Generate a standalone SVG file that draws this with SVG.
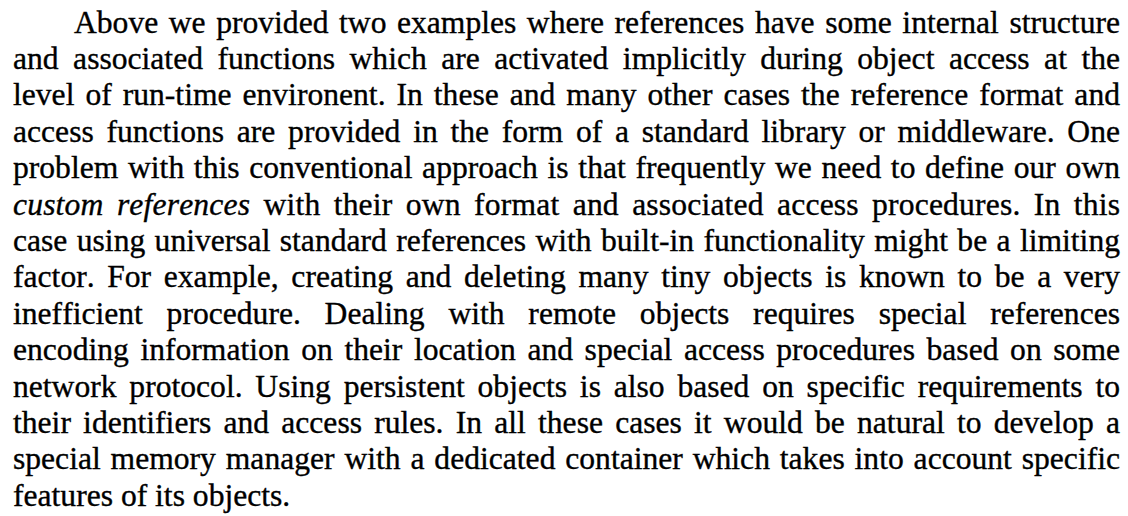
<svg xmlns="http://www.w3.org/2000/svg" width="1128" height="516" viewBox="0 0 1128 516">
  <style>
    .p { font-family: "Liberation Serif", "Times New Roman", serif; font-size: 31.6px; fill: #000; stroke: #000; stroke-width: 0.35px; font-kerning: none; font-variant-ligatures: none; }
    .i { font-style: italic; }
  </style>
  <rect x="0" y="0" width="1128" height="516" fill="#fff"/>
  <!-- justified paragraph: each line stretched to the column width -->
  <g id="paragraph">
    <text class="p" x="74" y="32.5" textLength="1046" lengthAdjust="spacing" word-spacing="2.63">Above we provided two examples where references have some internal structure</text>
    <text class="p" x="13" y="68.9" textLength="1107" lengthAdjust="spacing" word-spacing="6.56">and associated functions which are activated implicitly during object access at the</text>
    <text class="p" x="13" y="105.3" textLength="1107" lengthAdjust="spacing" word-spacing="3.07">level of run-time environent. In these and many other cases the reference format and</text>
    <text class="p" x="13" y="141.7" textLength="1107" lengthAdjust="spacing" word-spacing="4.82">access functions are provided in the form of a standard library or middleware. One</text>
    <text class="p" x="13" y="178.1" textLength="1107" lengthAdjust="spacing" word-spacing="1.78">problem with this conventional approach is that frequently we need to define our own</text>
    <text class="p" x="13" y="214.5" textLength="1107" lengthAdjust="spacing" word-spacing="5.3"><tspan class="i">custom references</tspan> with their own format and associated access procedures. In this</text>
    <text class="p" x="13" y="250.9" textLength="1107" lengthAdjust="spacing" word-spacing="1.45">case using universal standard references with built-in functionality might be a limiting</text>
    <text class="p" x="13" y="287.3" textLength="1107" lengthAdjust="spacing" word-spacing="4.72">factor. For example, creating and deleting many tiny objects is known to be a very</text>
    <text class="p" x="13" y="323.7" textLength="1107" lengthAdjust="spacing" word-spacing="15.85">inefficient procedure. Dealing with remote objects requires special references</text>
    <text class="p" x="13" y="360.1" textLength="1107" lengthAdjust="spacing" word-spacing="3.7">encoding information on their location and special access procedures based on some</text>
    <text class="p" x="13" y="396.5" textLength="1107" lengthAdjust="spacing" word-spacing="4.89">network protocol. Using persistent objects is also based on specific requirements to</text>
    <text class="p" x="13" y="432.9" textLength="1107" lengthAdjust="spacing" word-spacing="4.29">their identifiers and access rules. In all these cases it would be natural to develop a</text>
    <text class="p" x="13" y="469.3" textLength="1107" lengthAdjust="spacing" word-spacing="1.95">special memory manager with a dedicated container which takes into account specific</text>
    <text class="p" x="13" y="505.7">features of its objects.</text>
  </g>
</svg>
